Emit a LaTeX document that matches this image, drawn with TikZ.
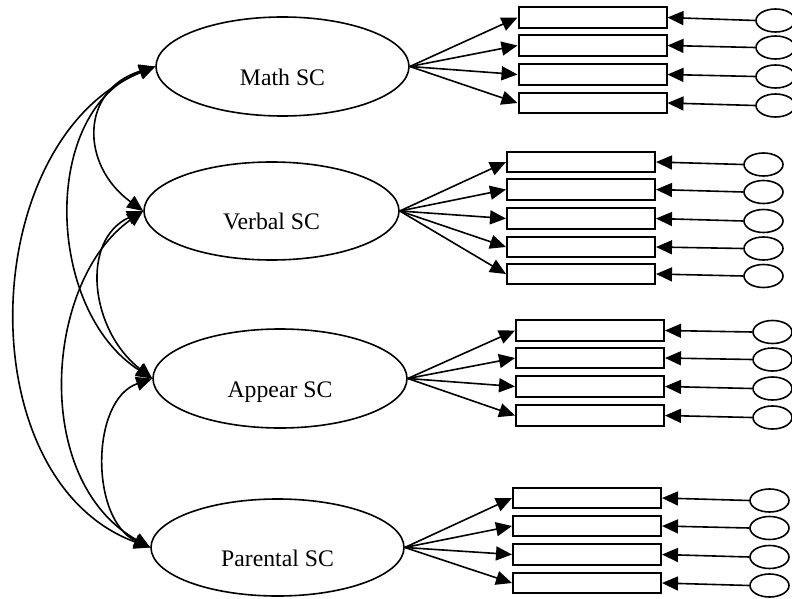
\documentclass[tikz,border=0pt]{standalone}
\usepackage{fontspec}
\setmainfont{Liberation Serif}
\usetikzlibrary{arrows.meta,shapes.geometric}
\begin{document}
\begin{tikzpicture}[x=0.75pt,y=-0.75pt,
  factor/.style={draw, ellipse, line width=1.2pt, inner sep=0pt},
  lab/.style={inner sep=0pt, anchor=base, font=\fontsize{17.8}{20}\selectfont},
  ind/.style={draw, rectangle, line width=1.5pt, inner sep=0pt,
              minimum width=111pt, minimum height=15.5pt},
  err/.style={draw, ellipse, line width=1.2pt, inner sep=0pt,
              minimum width=29.25pt, minimum height=17.25pt},
  tip/.tip={Triangle[length=12pt,width=10.5pt]},
  load/.style={line width=1.2pt, -tip},
  cov/.style={line width=1.2pt, tip-tip}]
\useasboundingbox (0,0) rectangle (792,599);

% latent factors
\node[factor, minimum width=189.75pt, minimum height=74.25pt] (math) at (282.5,66.5) {};
\node[factor, minimum width=191.25pt, minimum height=73.5pt]  (verb) at (271.5,211) {};
\node[factor, minimum width=190.5pt,  minimum height=74.25pt] (appe) at (280,378.5) {};
\node[factor, minimum width=189.75pt, minimum height=72.75pt] (pare) at (277.5,547.5) {};

\node[lab] (mathlab) at ([yshift=-13.9pt]math.center) {Math SC};
\node[lab] (verblab) at ([yshift=-13.6pt]verb.center) {Verbal SC};
\node[lab] (appelab) at ([yshift=-13.9pt]appe.center) {Appear SC};
\node[lab] (parelab) at ([yshift=-13.9pt]pare.center) {Parental SC};

% indicators and their error terms
\foreach \i/\y/\e in {1/17.5/20.5, 2/45.5/47.5, 3/74.5/76.5, 4/103/105.5}{
  \node[ind] (m\i) at (592.5,\y) {};
  \node[err] (em\i) at (775.5,\e) {};
  \draw[load] (math.east) -- (m\i.west);
  \draw[load] (em\i.west) -- (m\i.east);
}
\foreach \i/\y/\e in {1/162/164.5, 2/189.5/192, 3/218.5/221, 4/247/248.5, 5/274/276}{
  \node[ind] (v\i) at (581,\y) {};
  \node[err] (ev\i) at (763.5,\e) {};
  \draw[load] (verb.east) -- (v\i.west);
  \draw[load] (ev\i.west) -- (v\i.east);
}
\foreach \i/\y/\e in {1/330.5/332, 2/358/359.5, 3/386.5/388.5, 4/415.5/417.5}{
  \node[ind] (a\i) at (590,\y) {};
  \node[err] (ea\i) at (772.5,\e) {};
  \draw[load] (appe.east) -- (a\i.west);
  \draw[load] (ea\i.west) -- (a\i.east);
}
\foreach \i/\y/\e in {1/498/500.5, 2/526/528, 3/554.5/557, 4/583/585.5}{
  \node[ind] (p\i) at (587,\y) {};
  \node[err] (ep\i) at (769.5,\e) {};
  \draw[load] (pare.east) -- (p\i.west);
  \draw[load] (ep\i.west) -- (p\i.east);
}

% factor covariances
\draw[cov] (math.west) .. controls (80,90) and (80,165) .. (verb.west);
\draw[cov] (math.west) .. controls (40,110) and (45,310) .. (appe.west);
\draw[cov] (math.west) .. controls (-24,140) and (-34,480) .. (pare.west);
\draw[cov] (verb.west) .. controls (80,240) and (90,330) .. (appe.west);
\draw[cov] (verb.west) .. controls (45,280) and (30,480) .. (pare.west);
\draw[cov] (appe.west) .. controls (90,400) and (90,520) .. (pare.west);
\end{tikzpicture}
\end{document}
